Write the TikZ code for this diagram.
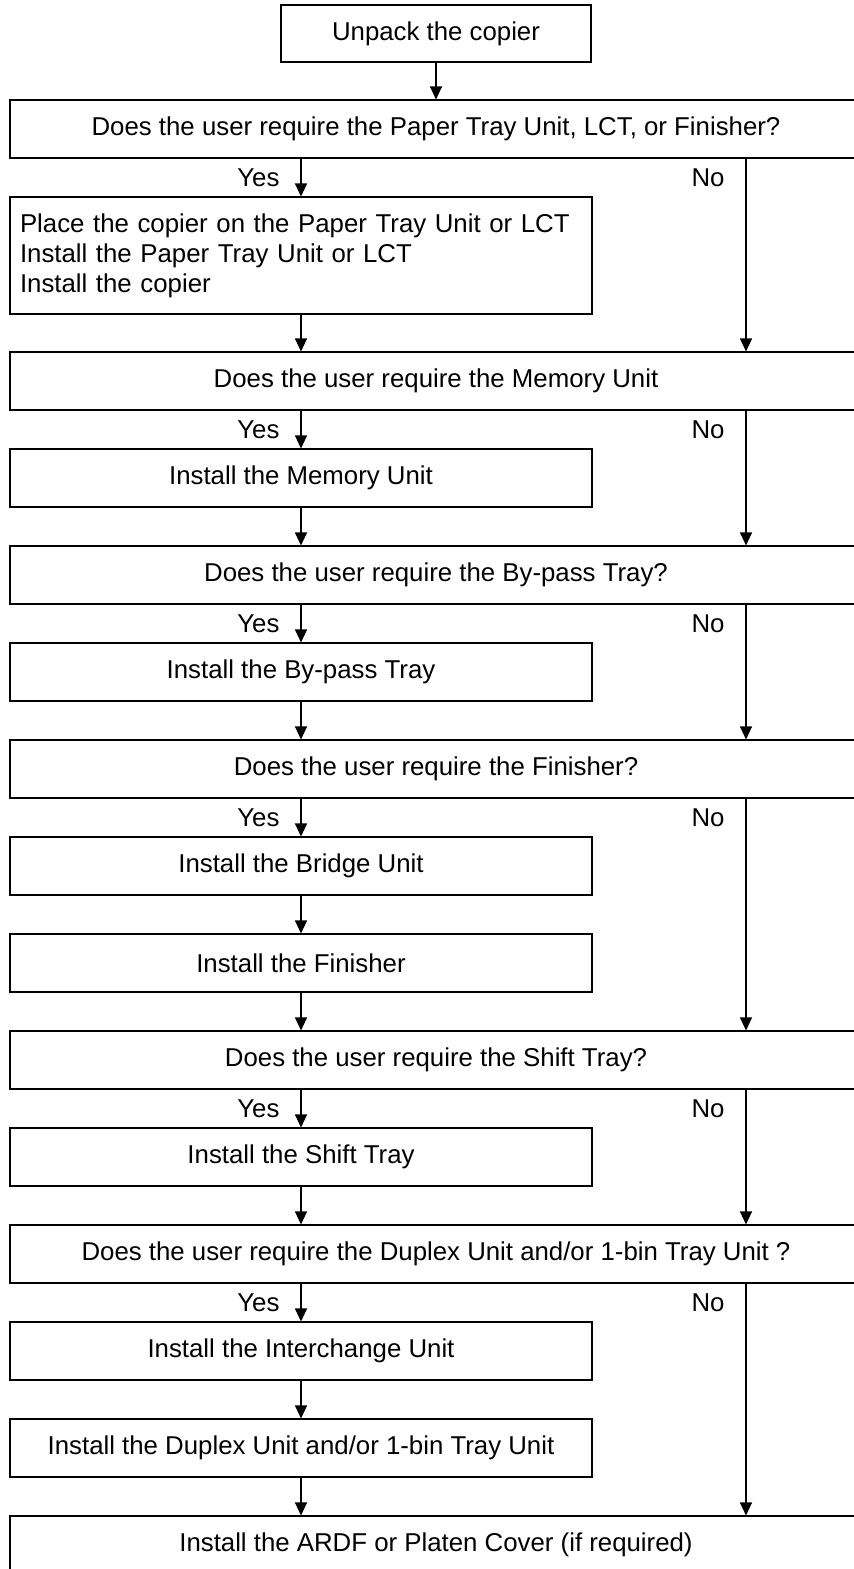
\documentclass[tikz,border=0pt]{standalone}
\usepackage{fontspec}
\setmainfont{Liberation Sans}
\usetikzlibrary{arrows.meta,calc}
\begin{document}
\begin{tikzpicture}[x=1pt,y=-1pt,
  txt/.style={font=\fontsize{25.8}{30}\selectfont},
  box/.style={txt, draw, line width=1.1pt, inner sep=0pt, minimum height=58pt},
  stepbox/.style={box, minimum width=582pt},
  askbox/.style={box, minimum width=852pt},
  arr/.style={line width=1.1pt, -{Triangle[length=13pt,width=12pt]}},
  lab/.style={txt, anchor=base}
]
\path[use as bounding box] (0,0) rectangle (854,1569);
\clip (0,0) rectangle (854,1569);

% steps and questions
\node[box, minimum width=310pt, minimum height=57pt] (unpack) at (436,33.5) {Unpack the copier};
\node[askbox] (d1) at (436,129) {Does the user require the Paper Tray Unit, LCT, or Finisher?};
\node[stepbox, minimum height=117pt, align=left, text width=562pt, inner xsep=10pt] (place) at (301,255.5)
  {Place the copier on the Paper Tray Unit or LCT\\Install the Paper Tray Unit or LCT\\Install the copier};
\node[askbox] (d2) at (436,381) {Does the user require the Memory Unit};
\node[stepbox] (mem) at (301,478) {Install the Memory Unit};
\node[askbox] (d3) at (436,575) {Does the user require the By-pass Tray?};
\node[stepbox] (bypass) at (301,672) {Install the By-pass Tray};
\node[askbox] (d4) at (436,769) {Does the user require the Finisher?};
\node[stepbox] (bridge) at (301,866) {Install the Bridge Unit};
\node[stepbox] (fin) at (301,963) {Install the Finisher};
\node[askbox] (d5) at (436,1060) {Does the user require the Shift Tray?};
\node[stepbox] (shift) at (301,1157) {Install the Shift Tray};
\node[askbox] (d6) at (436,1254) {Does the user require the Duplex Unit and/or 1-bin Tray Unit ?};
\node[stepbox] (inter) at (301,1351) {Install the Interchange Unit};
\node[stepbox] (duplex) at (301,1448) {Install the Duplex Unit and/or 1-bin Tray Unit};
\node[askbox] (final) at (436,1545) {Install the ARDF or Platen Cover (if required)};

% column of the "No" branches
\coordinate (nx) at (746,0);

% straight flow
\draw[arr] (unpack.south) -- (d1.north);
\draw[arr] (place.south) -- (place.south |- d2.north);
\draw[arr] (mem.south) -- (mem.south |- d3.north);
\draw[arr] (bypass.south) -- (bypass.south |- d4.north);
\draw[arr] (bridge.south) -- (fin.north);
\draw[arr] (fin.south) -- (fin.south |- d5.north);
\draw[arr] (shift.south) -- (shift.south |- d6.north);
\draw[arr] (inter.south) -- (duplex.north);
\draw[arr] (duplex.south) -- (duplex.south |- final.north);

% Yes / No branches of each question
\foreach \q/\s/\n in {d1/place/d2, d2/mem/d3, d3/bypass/d4, d4/bridge/d5, d5/shift/d6, d6/inter/final}{
  \draw[arr] (\s.north |- \q.south) -- (\s.north);
  \node[lab, anchor=base east] at ($(\s.north |- \q.south)+(-18,28)$) {Yes};
  \draw[arr] (nx |- \q.south) -- (nx |- \n.north);
  \node[lab] at ($(nx |- \q.south)+(-38,28)$) {No};
}
\end{tikzpicture}
\end{document}
